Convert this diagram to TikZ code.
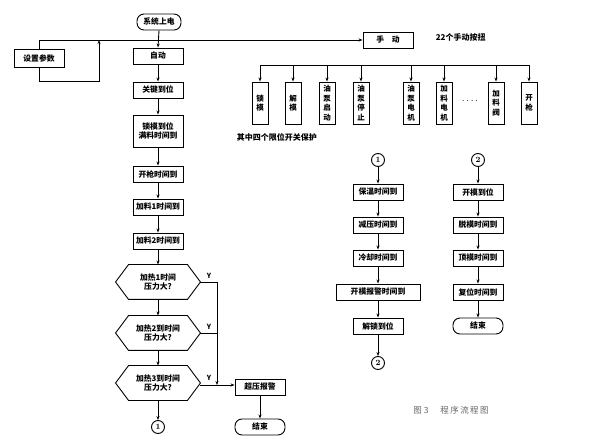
\documentclass[tikz,border=0pt]{standalone}
\usepackage{fontspec}
\newfontfamily\cjk{Noto Sans CJK SC}
\usetikzlibrary{calc,arrows.meta}
\begin{document}
\begin{tikzpicture}[x=1pt,y=-1pt,
  font=\cjk\bfseries\fontsize{7.8}{9.5}\selectfont,
  line width=0.9pt,
  box/.style={draw, minimum width=50pt, minimum height=16pt, inner sep=1pt, align=center},
  rbox/.style={box, rounded corners=7pt},
  vbox/.style={draw, minimum width=16pt, minimum height=42pt, inner sep=1pt, align=center, font=\cjk\bfseries\fontsize{7.5}{9.5}\selectfont},
  hexn/.style={minimum width=84pt, minimum height=34pt, inner sep=0pt, align=center},
  circ/.style={draw, circle, minimum size=13pt, inner sep=0pt, font=\fontsize{8}{9}\selectfont\bfseries},
  arr/.style={-{Stealth[length=4pt,width=3pt]}},
  lbl/.style={font=\cjk\bfseries\fontsize{7}{8}\selectfont}
]
\useasboundingbox (0,0) rectangle (600,446);

% left column
\node[rbox, minimum width=44pt] (s0) at (159,22) {系统上电};
\node[box] (auto) at (158,56) {自动};
\node[box] (gj) at (158,90) {关键到位};
\node[box, minimum height=32pt] (sm) at (158,131) {锁模到位\\满料时间到};
\node[box] (kq) at (158,174) {开枪时间到};
\node[box] (jl1) at (158,207) {加料1时间到};
\node[box] (jl2) at (158,241) {加料2时间到};
\node[hexn] (h1) at (158,282) {加热1时间\\压力大?};
\node[hexn] (h2) at (158,333) {加热2到时间\\压力大?};
\node[hexn] (h3) at (158,383) {加热3到时间\\压力大?};
\node[circ] (c1a) at (158,427) {1};
\node[box] (alarm) at (260,387) {超压报警};
\node[rbox] (end1) at (260,427) {结束};

% hexagon outlines
\foreach \h in {h1,h2,h3}{
  \draw (\h.west) -- ($(\h.north west)+(13,0)$) -- ($(\h.north east)+(-13,0)$)
    -- (\h.east) -- ($(\h.south east)+(-13,0)$) -- ($(\h.south west)+(13,0)$) -- cycle;
}

% parameter setting loop
\node[box, minimum height=18pt] (set) at (39,58) {设置参数};
\coordinate (L) at (39,40);
\coordinate (Lb) at (39,81);
\coordinate (Rb) at (99,81);
\coordinate (Rt) at (99,40);
\node[box] (man) at (388,40) {手\quad 动};
\draw[arr] (L) -- (man.west);
\draw (L) -- (set.north);
\draw[arr] (set.south) -- (Lb) -- (Rb) -- (Rt);

% main chain
\draw[arr] (s0.south) -- (auto.north);
\draw[arr] (auto.south) -- (gj.north);
\draw[arr] (gj.south) -- (sm.north);
\draw[arr] (sm.south) -- (kq.north);
\draw[arr] (kq.south) -- (jl1.north);
\draw[arr] (jl1.south) -- (jl2.north);
\draw[arr] (jl2.south) -- (h1.north);
\draw[arr] (h1.south) -- (h2.north);
\draw[arr] (h2.south) -- (h3.north);
\draw[arr] (h3.south) -- (c1a.north);
\draw[arr] (alarm.south) -- (end1.north);

% Y branches
\coordinate (v1) at (217,282);
\coordinate (v2) at (217,333);
\coordinate (v3) at (217,385);
\draw (h1.east) -- (v1);
\draw (h2.east) -- (v2);
\draw[arr] (v1) -- (v3);
\draw[arr] (h3.east |- v3) -- (alarm.west |- v3);
\node[lbl] (y1) at (209,276) {Y};
\node[lbl] (y2) at (209,327) {Y};
\node[lbl] (y3) at (209,378) {Y};

% manual buttons
\node[font=\cjk\bfseries\fontsize{8}{9}\selectfont, anchor=west] (n22) at (432,37) {22个手动按扭};
\coordinate (b0) at (260,65);
\coordinate (b1) at (529,65);
\draw (b0) -- (b1);
\foreach \n/\x/\t in {k1/260/锁\\模, k2/293/解\\模, k3/327/油\\泵\\启\\动, k4/361/油\\泵\\停\\止,
                      k5/411/油\\泵\\电\\机, k6/444/加\\料\\电\\机, k7/496/加\\料\\阀, k8/529/开\\枪}{
  \node[vbox] (\n) at (\x,103) {\t};
  \draw[arr] (\x,65) -- (\n.north);
}
\node[font=\bfseries] (dots) at (470,101) {$\cdots\cdot$};
\node[anchor=west, font=\cjk\bfseries\fontsize{8}{9}\selectfont] (note) at (233,137) {其中四个限位开关保护};

% right column 1
\node[circ] (c1b) at (378,160) {1};
\node[box] (bw) at (378,192) {保温时间到};
\node[box] (jy) at (378,225) {减压时间到};
\node[box] (lq) at (378,258) {冷却时间到};
\node[box, minimum width=84pt] (kb) at (378,292) {开模报警时间到};
\node[box] (js) at (378,326) {解锁到位};
\node[circ] (c2a) at (378,363) {2};
\draw[arr] (c1b.south) -- (bw.north);
\draw[arr] (bw.south) -- (jy.north);
\draw[arr] (jy.south) -- (lq.north);
\draw[arr] (lq.south) -- (kb.north);
\draw[arr] (kb.south) -- (js.north);
\draw[arr] (js.south) -- (c2a.north);

% right column 2
\node[circ] (c2b) at (478,160) {2};
\node[box] (km) at (478,192) {开模到位};
\node[box] (tm) at (478,225) {脱模时间到};
\node[box] (dm) at (478,258) {顶模时间到};
\node[box] (fw) at (478,292) {复位时间到};
\node[rbox] (end2) at (478,326) {结束};
\draw[arr] (c2b.south) -- (km.north);
\draw[arr] (km.south) -- (tm.north);
\draw[arr] (tm.south) -- (dm.north);
\draw[arr] (dm.south) -- (fw.north);
\draw[arr] (fw.south) -- (end2.north);

% caption
\node[text=black!60, font=\cjk\fontsize{8.5}{9}\selectfont] (cap) at (451,410) {图 3\hspace{12pt}程\,序\,流\,程\,图};
\end{tikzpicture}
\end{document}
